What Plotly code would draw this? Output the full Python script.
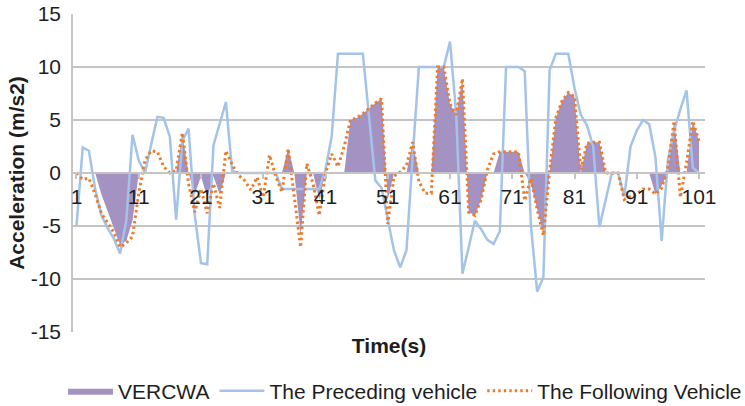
import plotly.graph_objects as go

time_idx = list(range(1, 102))

preceding = [
    -5.0, 2.4, 2.1, -1.5, -4.0, -5.2, -6.2, -7.6, -4.5, 3.6,
    1.2, 0.0, 2.7, 5.3, 5.2, 3.4, -4.4, 3.0, 4.2, -4.0,
    -8.5, -8.6, 2.6, 4.6, 6.7, 0.2, 0.0, 0.0, 0.0, 0.0,
    0.0, 0.0, 0.0, -1.5, -1.5, -1.5, -1.5, -1.5, -1.5, -1.5,
    0.3, 3.5, 11.25, 11.25, 11.25, 11.25, 11.25, 5.3, -0.7, -1.4,
    -4.3, -7.3, -8.9, -7.3, 1.5, 10.0, 10.0, 10.0, 10.0, 10.0,
    12.4, 5.5, -9.5, -7.0, -4.5, -5.3, -6.3, -6.7, -5.5, 10.0,
    10.0, 10.0, 9.6, -5.0, -11.2, -9.8, 9.7, 11.25, 11.25, 11.25,
    8.0, 5.5, 4.5, 2.5, -5.1, -2.5, 0.0, 0.0, -2.2, 2.5,
    4.0, 5.0, 4.6, 1.5, -6.4, 1.2, 4.0, 6.0, 7.8, 0.5,
    0.0,
]

following = [
    0.0, -0.6, -0.5, -2.0, -3.8, -4.7, -5.6, -7.0, -6.6, -6.0,
    -1.9, 1.2, 2.1, 2.0, 0.6, 0.0, 0.2, 3.8, -1.0, -3.7,
    -1.5, -3.8, -1.0, -3.3, 2.1, 0.8, -0.2, -0.7, -1.6, -0.4,
    -2.3, 1.7, -0.3, -1.8, 2.3, -2.3, -7.0, 0.9, -1.0, -4.0,
    0.0, 1.8, 0.6, 2.5, 5.0, 5.2, 5.6, 6.1, 6.6, 7.0,
    -4.8, -0.3, 0.1, 0.7, 2.9, -0.8, -1.9, -1.9, 10.0, 10.0,
    6.5, 5.5, 8.9, -3.7, -4.0, -2.5, 0.3, 1.8, 2.0, 2.0,
    2.0, 2.0, -2.6, -0.5, -3.4, -5.9, 0.2, 5.2, 6.8, 7.6,
    7.2, 0.3, 2.8, 2.9, 2.9, 0.0, 0.0, 0.0, -2.5, -2.2,
    -2.0, -1.5, -1.5, -2.0, -1.4, 0.5, 4.9, -2.3, 1.0, 4.9,
    3.0,
]

vercwa = [
    0.0, 0.0, 0.0, 0.0, -2.0, -3.6, -5.2, -6.8, -6.4, -4.5,
    0.0, 0.0, 0.0, 0.0, 0.0, 0.0, 0.0, 3.7, 0.0, -2.0,
    -0.3, -2.3, -0.3, -2.0, 0.0, 0.0, 0.0, 0.0, 0.0, 0.0,
    0.0, 0.0, 0.0, 0.0, 2.3, 0.0, -5.8, 0.0, 0.0, -2.5,
    0.0, 0.0, 0.0, 0.0, 5.0, 5.2, 5.6, 6.1, 6.6, 7.0,
    -2.5, 0.0, 0.0, 0.0, 2.9, 0.0, 0.0, 0.0, 10.0, 10.0,
    6.5, 5.5, 8.9, -3.7, -4.0, -2.5, 0.0, 0.0, 2.0, 2.0,
    2.0, 2.0, 0.0, -1.0, -3.4, -5.7, 0.0, 5.2, 6.8, 7.6,
    7.2, 0.0, 2.8, 2.9, 2.9, 0.0, 0.0, 0.0, 0.0, 0.0,
    0.0, 0.0, 0.0, -2.0, -1.2, 0.0, 4.9, 0.0, 0.0, 4.9,
    3.0,
]

x_tick_vals = [1, 11, 21, 31, 41, 51, 61, 71, 81, 91, 101]
x_tick_text = ["1", "11", "21", "31", "41", "51", "61", "71", "81", "91", "101"]
y_tick_vals = [-15, -10, -5, 0, 5, 10, 15]
y_tick_text = ["-15", "-10", "-5", "0", "5", "10", "15"]

FONT = "Liberation Sans, Arial, Helvetica, sans-serif"
TEXT = "#1e1e1e"
GRID = "#c4c4c4"

fig = go.Figure()
fig.add_trace(go.Scatter(
    x=time_idx, y=vercwa, name="VERCWA", mode="lines",
    line=dict(width=0, color="#a492c3"), fill="tozeroy",
    fillcolor="#a492c3",
))
fig.add_trace(go.Scatter(
    x=time_idx, y=preceding, name="The Preceding vehicle", mode="lines",
    line=dict(width=2.5, color="#a3c3e9"),
))
fig.add_trace(go.Scatter(
    x=time_idx, y=following, name="The Following Vehicle", mode="lines",
    line=dict(width=3, color="#ee7b2c", dash="2.5px,3px"),
))

fig.update_layout(
    width=745, height=406,
    margin=dict(l=73, r=40, t=14, b=74, autoexpand=False),
    paper_bgcolor="white", plot_bgcolor="white",
    font=dict(family=FONT, size=21, color=TEXT),
    showlegend=True,
    legend=dict(
        orientation="h", xref="paper", yref="paper",
        x=-0.0158, xanchor="left", y=-0.1855, yanchor="middle",
        itemwidth=45,
        font=dict(size=21, color=TEXT), bgcolor="rgba(0,0,0,0)",
    ),
    xaxis=dict(
        range=[0.44, 101.96], anchor="free", position=0.5, automargin=False,
        tickmode="array", tickvals=x_tick_vals, ticktext=x_tick_text,
        showgrid=False, zeroline=False,
        showline=True, linecolor=GRID, linewidth=1.5,
        ticks="outside", ticklen=5, tickcolor=GRID, tickwidth=1.5,
        tickfont=dict(size=21, color=TEXT),
        title=dict(text="<b>Time(s)</b>", font=dict(size=21, color=TEXT), standoff=130),
    ),
    yaxis=dict(
        range=[-15, 15], tickmode="array", tickvals=y_tick_vals, ticktext=y_tick_text,
        automargin=False, ticklabelstandoff=6,
        showgrid=True, gridcolor=GRID, gridwidth=1.5, zeroline=False,
        showline=True, linecolor=GRID, linewidth=1.5,
        ticks="", tickfont=dict(size=21, color=TEXT),
        title=dict(text="<b>Acceleration (m/s2)</b>", font=dict(size=21, color=TEXT), standoff=0),
    ),
)

fig.write_html("out.html")
